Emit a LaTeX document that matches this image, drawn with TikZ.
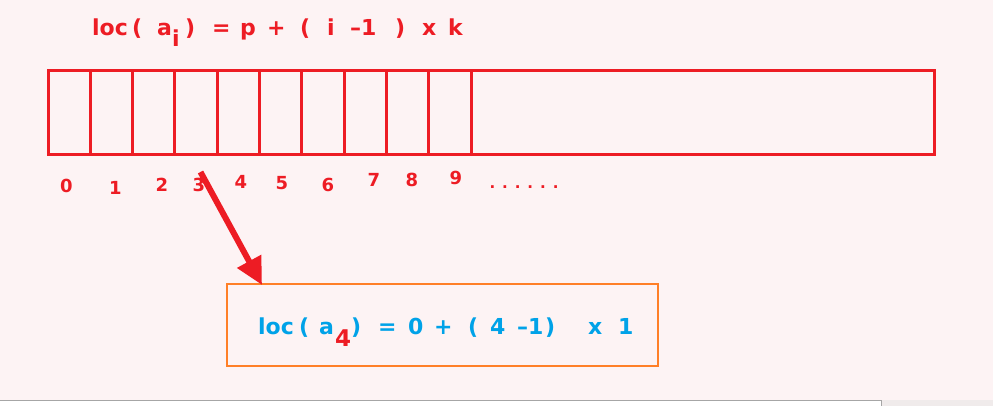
\documentclass[tikz,border=0pt]{standalone}
\usepackage{fontspec}
\setmainfont{DejaVu Sans}
\usetikzlibrary{arrows.meta}

\definecolor{arrred}{HTML}{ED1C24}
\definecolor{boxorange}{HTML}{FF7F27}
\definecolor{resblue}{HTML}{00A2E8}
\definecolor{bgpink}{HTML}{FDF3F4}
\definecolor{bargrey}{HTML}{F0EBEB}

\tikzset{
  formula/.style={font=\bfseries\fontsize{22}{26}\selectfont, inner sep=0pt, anchor=base west},
  idx/.style={font=\bfseries\fontsize{18}{21}\selectfont, inner sep=0pt, text=arrred},
  cellline/.style={draw=arrred, line width=3pt},
}

\begin{document}
\begin{tikzpicture}[x=1pt,y=-1pt]
        \useasboundingbox (0,0) rectangle (993,406);
        \fill[bgpink] (0,0) rectangle (993,406);
        % window edge at the bottom
        \fill[white] (0,400) rectangle (881,406);
        \fill[bargrey] (881,400) rectangle (993,406);
        \draw[gray!70, line width=1pt] (0,400) -- (881,400) -- (881,406);

        % general formula
        \foreach \x/\y/\t [count=\n] in {92/36/loc, 132/36/{(}, 157/36/a, 172/47/i, 185/36/{)}, 212/36/=, 240/36/p, 267/36/+, 300/36/{(}, 327/36/i, 350/36/{–1}, 395/36/{)}, 422/36/x, 448/36/k}
            \node[formula, text=arrred] (f\n) at (\x,\y) {\t};

        % memory cells
        \draw[cellline] (48,71) rectangle (934,155);
        \foreach \i in {1,...,10}
            \draw[cellline] (48+42.3*\i,71) -- (48+42.3*\i,155);

        \foreach \x/\y [count=\n from 0] in {66.5/185.5, 115.5/188, 162/184.5, 199/185, 241/181.5, 282/183.5, 328/184.5, 374/180, 412/179.5, 456/178}
            \node[idx] (l\n) at (\x,\y) {\n};
        \node[idx, font=\bfseries\fontsize{15}{18}\selectfont] (dots) at (524,187) {. . . . . .};

        % worked example
        \node[draw=boxorange, line width=2.2pt, minimum width=431pt, minimum height=82pt, inner sep=0pt] (res) at (442.5,325) {};
        \foreach \x/\y/\t [count=\n] in {258/334/loc, 299/334/{(}, 319/334/a, 351/334/{)}, 378/334/=, 408/334/0, 434/334/+, 468/334/{(}, 490/334/4, 517/334/{–1}, 545/334/{)}, 588/334/x, 618/334/1}
            \node[formula, text=resblue] (r\n) at (\x,\y) {\t};
        \node[formula, text=arrred, font=\bfseries\fontsize{23}{27}\selectfont] (sub) at (335,346) {4};

        \coordinate (tip) at (262,285);
        \draw[arrred, line width=6pt, -{Triangle[length=27pt,width=26pt]}] (l3.north) ++(1.5,-6) -- (tip);
\end{tikzpicture}
\end{document}
